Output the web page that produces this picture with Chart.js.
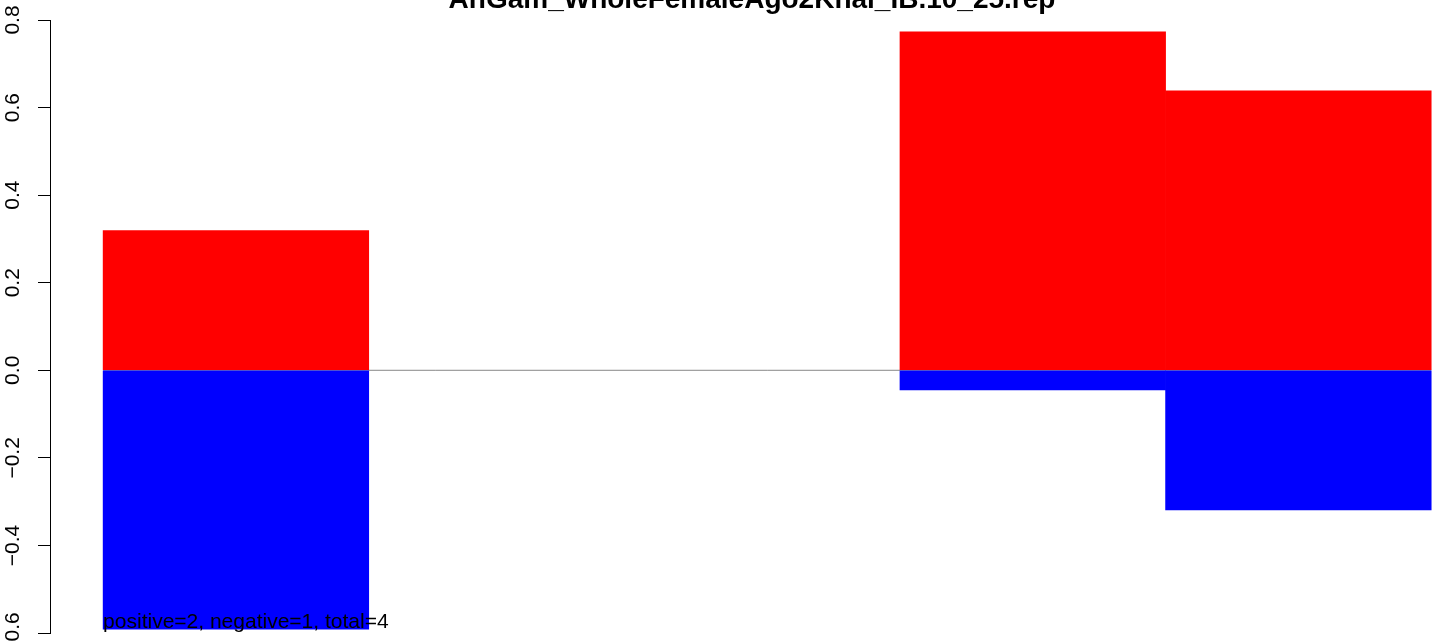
<!DOCTYPE html>
<html>
<head>
<meta charset="utf-8">
<script src="https://cdn.jsdelivr.net/npm/chart.js@4"></script>
<style>
  html, body { margin: 0; padding: 0; background: #fff; }
  #wrap { width: 1449px; height: 641px; position: relative; }
</style>
</head>
<body>
<div id="wrap"><canvas id="chart"></canvas></div>
<script>
const chartTitle = 'AnGam_WholeFemaleAgo2Khai_IB.10_25.rep';
const categories = ['1', '2', '3', '4', '5'];
const positiveValues = [0.319, null, null, 0.773, 0.638];
const negativeValues = [-0.591, null, null, -0.045, -0.319];
const countsNote = 'positive=2, negative=1, total=4';

const FONT = '"Liberation Sans", Arial, sans-serif';

// bar midpoints like R's barplot (0.5, 1.5, ...)
function toPoints(values) {
    return categories.map((c, i) => ({ x: i + 0.5, y: values[i] }));
}

// title (cut off at the top, like the original) and the counts note
const textPlugin = {
    id: 'texts',
    afterDatasetsDraw(chart) {
        const ctx = chart.ctx;
        const xs = chart.scales.x;
        const ys = chart.scales.y;
        ctx.save();
        ctx.fillStyle = '#000';
        ctx.textBaseline = 'alphabetic';

        ctx.font = 'bold 28px ' + FONT;
        ctx.textAlign = 'center';
        ctx.fillText(chartTitle, (chart.width + 55) / 2, 8);

        ctx.font = '21px ' + FONT;
        ctx.textAlign = 'left';
        ctx.fillText(countsNote, xs.getPixelForValue(0), ys.getPixelForValue(-0.6) - 5);
        ctx.restore();
    }
};

const chartCanvas = document.getElementById('chart').getContext('2d');

new Chart(chartCanvas, {
    data: {
        datasets: [
            {
                type: 'line',
                label: 'zero',
                data: [{ x: 0, y: 0 }, { x: categories.length, y: 0 }],
                borderColor: '#888888',
                borderWidth: 1,
                pointRadius: 0,
                order: 3
            },
            {
                type: 'bar',
                label: 'positive',
                data: toPoints(positiveValues),
                backgroundColor: '#ff0000',
                borderWidth: 0,
                categoryPercentage: 1,
                barPercentage: 1,
                order: 1
            },
            {
                type: 'bar',
                label: 'negative',
                data: toPoints(negativeValues),
                backgroundColor: '#0000ff',
                borderWidth: 0,
                categoryPercentage: 1,
                barPercentage: 1,
                order: 1
            }
        ]
    },
    options: {
        responsive: true,
        maintainAspectRatio: false,
        animation: false,
        layout: { padding: { top: 20, bottom: 8, left: 0, right: 0 } },
        plugins: {
            legend: { display: false },
            tooltip: { enabled: false },
            title: { display: false }
        },
        scales: {
            x: {
                type: 'linear',
                display: false,
                stacked: true,
                offset: false,
                bounds: 'data',
                min: -0.2,
                max: 5.067,
                ticks: { stepSize: 1, includeBounds: false }
            },
            y: {
                stacked: true,
                min: -0.6,
                max: 0.8,
                afterFit(scale) {
                    scale.width = 50;
                    scale.paddingTop = 0;
                    scale.paddingBottom = 0;
                },
                border: { display: true, color: '#000', width: 1 },
                grid: {
                    drawOnChartArea: false,
                    drawTicks: true,
                    tickLength: 12,
                    tickColor: '#000',
                    tickWidth: 1
                },
                ticks: {
                    stepSize: 0.2,
                    includeBounds: false,
                    minRotation: 90,
                    maxRotation: 90,
                    crossAlign: 'center',
                    padding: 4,
                    color: '#000',
                    font: { family: FONT, size: 21 },
                    callback: (v) => v.toFixed(1).replace('-', '\u2212')
                }
            }
        }
    },
    plugins: [textPlugin]
});
</script>
</body>
</html>
